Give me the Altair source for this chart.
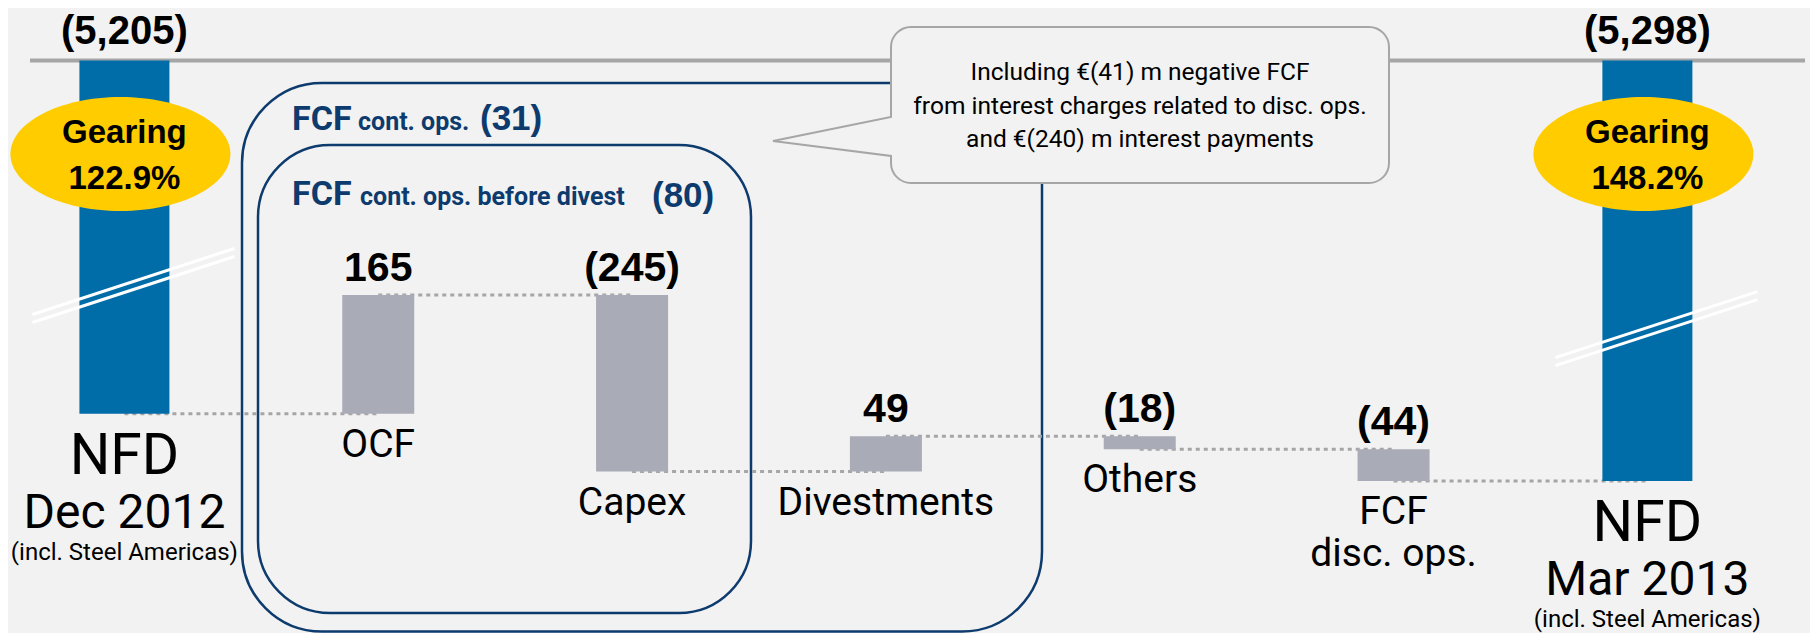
import altair as alt
import pandas as pd

# ---------------- data ----------------
categories = ["NFD Dec 2012", "OCF", "Capex", "Divestments", "Others", "FCF disc. ops.", "NFD Mar 2013"]
step_labels = ["OCF", "Capex", "Divestments", "Others", "FCF\ndisc. ops."]
cash_flows = [165, -245, 49, -18, -44]            # € m
nfd_values = [-5205, -5298]                        # net financial debt, € m
nfd_periods = ["Dec 2012", "Mar 2013"]
nfd_notes = ["(incl. Steel Americas)", "(incl. Steel Americas)"]
gearing = ["122.9%", "148.2%"]
box_values = [-31, -80]                            # FCF cont. ops. / before divest
callout_lines = [
    "Including €(41) m negative FCF",
    "from interest charges related to disc. ops.",
    "and €(240) m interest payments",
]
AXIS_TOP = 4715   # debt level where the (broken) axis top rule sits


def fmt(v):
    s = f"{abs(v):,}"
    return f"({s})" if v < 0 else s


# ---------------- tables ----------------
debt = -nfd_values[0]
bar_rows = [dict(cat=categories[0], top=AXIS_TOP, bottom=debt, label=fmt(nfd_values[0]),
                 kind="nfd", name="NFD", period=nfd_periods[0], note=nfd_notes[0],
                 gear=f"Gearing\n{gearing[0]}")]
levels = [debt]
for i, f in enumerate(cash_flows):
    new = debt - f
    bar_rows.append(dict(cat=categories[i + 1], top=min(debt, new), bottom=max(debt, new),
                         label=fmt(f), kind="flow", name=step_labels[i]))
    debt = new
    levels.append(debt)
bar_rows.append(dict(cat=categories[-1], top=AXIS_TOP, bottom=-nfd_values[1], label=fmt(nfd_values[1]),
                     kind="nfd", name="NFD", period=nfd_periods[1], note=nfd_notes[1],
                     gear=f"Gearing\n{gearing[1]}"))
bars_df = pd.DataFrame(bar_rows)

link_rows = []
for j, lvl in enumerate(levels):
    link_rows.append(dict(seg=j, cat=categories[j], level=lvl))
    link_rows.append(dict(seg=j, cat=categories[j + 1], level=lvl))
links_df = pd.DataFrame(link_rows)

blank = pd.DataFrame({"k": [0]})
top_df = pd.DataFrame({"lvl": [AXIS_TOP]})

# ---------------- style ----------------
BG = "#f2f2f2"
BLUE = "#006da9"
GREY_BAR = "#a9abb7"
YELLOW = "#ffcc00"
NAVY = "#0d3b6e"
RULE = "#a6a6a6"
NARROW = "Roboto"
SANS = "Liberation Sans"
W, H = 1802, 625

xs = alt.Scale(domain=categories, range=[-10.5, 1766.3], paddingInner=0, paddingOuter=0)
ys = alt.Scale(domain=[4642, 5509], reverse=True, nice=False, zero=False)
X = alt.X("cat:N", scale=xs, axis=None)


def Y(field):
    return alt.Y(field, scale=ys, axis=None)


def box(x1, x2, y1, y2, r):
    return alt.Chart(blank).mark_rect(cornerRadius=r, fillOpacity=0, stroke=NAVY, strokeWidth=2.5).encode(
        x=alt.value(x1), x2=alt.value(x2), y=alt.value(y1), y2=alt.value(y2))


def note(text, x, y, size, font, weight="normal", color="black", align="left"):
    return alt.Chart(blank).mark_text(text=text, font=font, fontSize=size, fontWeight=weight,
                                      color=color, align=align, baseline="alphabetic").encode(
        x=alt.value(x), y=alt.value(y))


outer_box = box(234, 1034, 75, 623.5, 80)
inner_box = box(250, 743, 137, 605, 72)

top_rule = alt.Chart(top_df).mark_rule(color=RULE, strokeWidth=4).encode(
    x=alt.value(22), x2=alt.value(1797), y=Y("lvl:Q"))

CALLOUT = ("M 20 0 L 478 0 A 20 20 0 0 1 498 20 L 498 136 A 20 20 0 0 1 478 156 "
           "L 20 156 A 20 20 0 0 1 0 136 L 0 129 L -118 114 L 0 90 L 0 20 A 20 20 0 0 1 20 0 Z")
callout = alt.Chart(blank).mark_point(shape=CALLOUT, size=4, filled=True, fill=BG, stroke=RULE,
                                      strokeWidth=2, opacity=1).encode(x=alt.value(883), y=alt.value(19))
callout_text = alt.Chart(blank).mark_text(text=callout_lines, font=NARROW, fontSize=24.5, lineHeight=33.5,
                                          align="center", baseline="alphabetic", color="black").encode(
    x=alt.value(1132), y=alt.value(72))

links = alt.Chart(links_df).mark_line(color=RULE, strokeWidth=3, strokeDash=[4, 4]).encode(
    x=X, y=Y("level:Q"), detail="seg:N")

nfd_only = alt.Chart(bars_df).transform_filter("datum.kind == 'nfd'")
flow_only = alt.Chart(bars_df).transform_filter("datum.kind == 'flow'")

nfd_bars = nfd_only.mark_bar(width=90, color=BLUE).encode(x=X, y=Y("top:Q"), y2="bottom:Q")
flow_bars = flow_only.mark_bar(width=72, color=GREY_BAR).encode(x=X, y=Y("top:Q"), y2="bottom:Q")

BREAK = "M -92 26 L 110 -40 M -92 34 L 110 -32"
breaks = nfd_only.transform_calculate(brk=f"{AXIS_TOP} + 0.645 * (datum.bottom - {AXIS_TOP})").mark_point(
    shape=BREAK, size=4, filled=False, stroke="white", strokeWidth=3, opacity=1).encode(x=X, y=Y("brk:Q"))

ELLIPSE = "M -114 0 A 110 57 0 1 1 106 0 A 110 57 0 1 1 -114 0 Z"
ellipses = nfd_only.mark_point(shape=ELLIPSE, size=4, filled=True, color=YELLOW, opacity=1).encode(
    x=X, y=alt.value(146))
gear_text = nfd_only.mark_text(font=SANS, fontSize=33, fontWeight="bold", lineBreak="\n", lineHeight=46,
                               align="center", baseline="alphabetic", color="black").encode(
    x=X, y=alt.value(135), text="gear:N")

nfd_value = nfd_only.mark_text(font=SANS, fontSize=40, fontWeight="bold", align="center",
                               baseline="alphabetic", dy=-17, color="black").encode(
    x=X, y=Y("top:Q"), text="label:N")
nfd_name = nfd_only.mark_text(font=NARROW, fontSize=57, align="center", baseline="alphabetic",
                              dy=60, color="black").encode(x=X, y=Y("bottom:Q"), text="name:N")
nfd_period = nfd_only.mark_text(font=NARROW, fontSize=48, align="center", baseline="alphabetic",
                                dy=114, color="black").encode(x=X, y=Y("bottom:Q"), text="period:N")
nfd_note = nfd_only.mark_text(font=NARROW, fontSize=24, align="center", baseline="alphabetic",
                              dy=146, color="black").encode(x=X, y=Y("bottom:Q"), text="note:N")

flow_value = flow_only.mark_text(font=SANS, fontSize=41, fontWeight="bold", align="center",
                                 baseline="alphabetic", dy=-14, color="black").encode(
    x=X, y=Y("top:Q"), text="label:N")
flow_name = flow_only.mark_text(font=NARROW, fontSize=39, align="center", baseline="alphabetic",
                                lineBreak="\n", lineHeight=42, dy=43, color="black").encode(
    x=X, y=Y("bottom:Q"), text="name:N")

titles = [
    note("FCF", 284, 122, 34, NARROW, "bold", NAVY),
    note("cont. ops.", 350, 122, 25, NARROW, "bold", NAVY),
    note(fmt(box_values[0]), 472, 122, 35, SANS, "bold", NAVY),
    note("FCF", 284, 197, 34, NARROW, "bold", NAVY),
    note("cont. ops. before divest", 352, 197, 25, NARROW, "bold", NAVY),
    note(fmt(box_values[1]), 644, 199, 35, SANS, "bold", NAVY),
]

chart = alt.layer(
    outer_box, inner_box, top_rule, callout, callout_text, links, nfd_bars, flow_bars, breaks,
    ellipses, gear_text, nfd_value, nfd_name, nfd_period, nfd_note, flow_value, flow_name, *titles
).properties(
    width=W, height=H, padding=0, autosize=alt.AutoSizeParams(type="none"), background=BG
).configure_view(stroke=None)

chart.save("out.html", embed_options={"renderer": "svg", "actions": False})
